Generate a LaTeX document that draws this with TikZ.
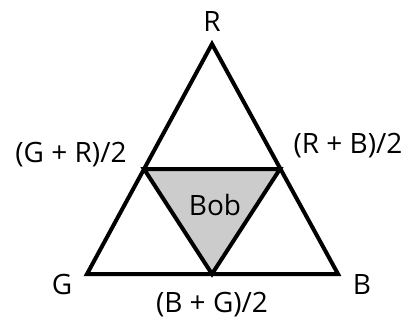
\documentclass[tikz,border=0pt]{standalone}
\usepackage{fontspec}
\setmainfont{Open Sans}
\begin{document}
\begin{tikzpicture}[x=1pt,y=-1pt,
  edge/.style={line width=4pt,line join=miter},
  lbl/.style={font=\fontsize{28}{32}\selectfont,inner sep=0pt}]
\useasboundingbox (0,0) rectangle (415,327);
\coordinate (R) at (212,44);
\coordinate (G) at (87,274);
\coordinate (B) at (338,274);
\coordinate (GR) at (144,169);
\coordinate (RB) at (280,169);
\coordinate (BG) at (212,274);
\fill[gray!40] (GR) -- (RB) -- (BG) -- cycle;
\draw[edge] (R) -- (G) -- (B) -- cycle;
\draw[edge] (GR) -- (RB) -- (BG) -- cycle;
\node[lbl] (lR) at (212,22) {R};
\node[lbl] (lG) at (62,284) {G};
\node[lbl] (lB) at (362,284) {B};
\node[lbl] (lGR) at (71,155) {(G + R)/2};
\node[lbl] (lRB) at (348,146) {(R + B)/2};
\node[lbl] (lBG) at (212,305) {(B + G)/2};
\node[lbl] (lBob) at (215,205) {Bob};
\end{tikzpicture}
\end{document}
